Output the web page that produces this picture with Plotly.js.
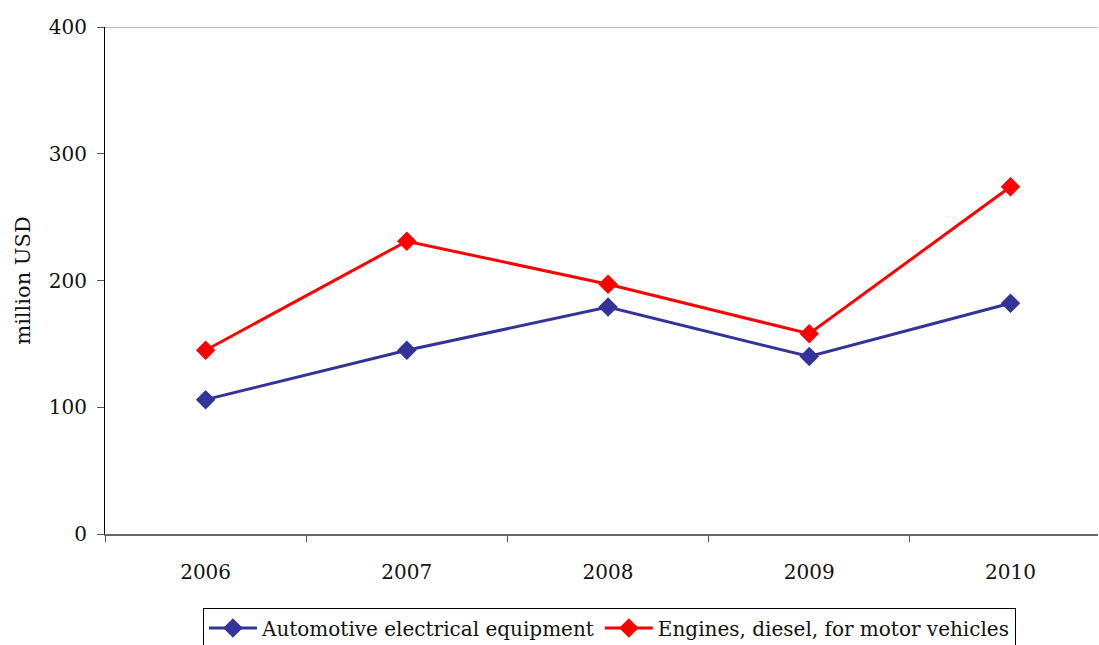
<!DOCTYPE html>
<html>
<head>
<meta charset="utf-8">
<script src="https://cdn.plot.ly/plotly-3.0.1.min.js"></script>
<style>html,body{margin:0;padding:0;background:#fff;}#chart{width:1099px;height:645px;}</style>
</head>
<body>
<div id="chart"></div>
<script>
const years = ["2006", "2007", "2008", "2009", "2010"];
const automotiveElectrical = [106, 145, 179, 140, 182];
const enginesDiesel = [145, 231, 197, 158, 274];
const seriesNames = ["Automotive electrical equipment", "Engines, diesel, for motor vehicles"];
const yTicks = [0, 100, 200, 300, 400];

const font = "DejaVu Serif";

const traces = [
  {x: years, y: automotiveElectrical, name: seriesNames[0], type: "scatter", mode: "lines+markers",
   line: {color: "#333399", width: 3}, marker: {symbol: "diamond", size: 15, color: "#333399"}},
  {x: years, y: enginesDiesel, name: seriesNames[1], type: "scatter", mode: "lines+markers",
   line: {color: "#FF0000", width: 3}, marker: {symbol: "diamond", size: 15, color: "#FF0000"}}
];

const layout = {
  width: 1099, height: 645,
  margin: {l: 105, r: 1, t: 27, b: 111},
  paper_bgcolor: "#fff", plot_bgcolor: "#fff",
  font: {family: font, size: 19, color: "#111"},
  showlegend: true,
  legend: {orientation: "h", x: 0.508, xanchor: "center", yref: "container", y: 0.058, yanchor: "top",
    bordercolor: "#000", borderwidth: 1, itemwidth: 48, font: {family: font, size: 20, color: "#111"},
    tracegroupgap: 0},
  xaxis: {type: "category", range: [-0.5, 4.435], tickson: "boundaries",
    ticks: "outside", ticklen: 6, tickcolor: "#555", showline: true, linecolor: "#666", linewidth: 2,
    showgrid: false, zeroline: false, ticklabelstandoff: 19,
    tickfont: {family: font, size: 20, color: "#111"}},
  yaxis: {range: [0, 400], tickvals: yTicks, ticks: "outside", ticklen: 7, tickcolor: "#555",
    showline: true, linecolor: "#000", linewidth: 1, showgrid: false, zeroline: false,
    ticklabelstandoff: 6, tickfont: {family: font, size: 20, color: "#111"},
    title: {text: "million USD", font: {family: font, size: 21, color: "#111"}, standoff: 12}},
  shapes: [{type: "line", xref: "paper", yref: "y", x0: 0, x1: 1, y0: 400, y1: 400,
    line: {color: "#aaa", width: 1.5}}]
};

Plotly.newPlot("chart", traces, layout, {displayModeBar: false, staticPlot: true});
</script>
</body>
</html>
